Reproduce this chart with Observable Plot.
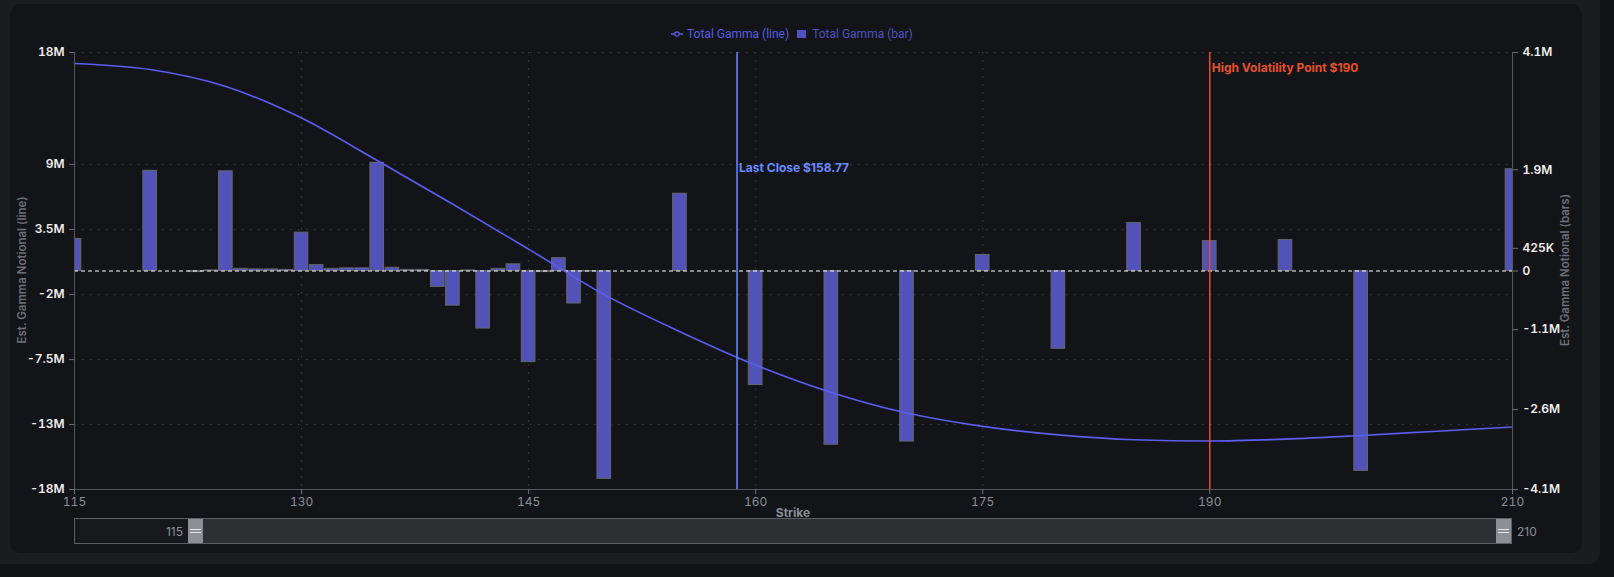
<!DOCTYPE html>
<html><head><meta charset="utf-8">
<script src="https://cdn.jsdelivr.net/npm/d3@7"></script>
<script src="https://cdn.jsdelivr.net/npm/@observablehq/plot@0.6"></script>
<style>
html,body{margin:0;padding:0;background:#121316;width:1614px;height:577px;overflow:hidden;font-family:Inter,"Noto Sans",sans-serif;}
#outer{position:absolute;left:0;top:0;width:1600px;height:564px;background:#1b1c20;border-radius:0 0 12px 0;}
#card{position:absolute;left:10px;top:4px;width:1572px;height:549px;background:#131417;border-radius:10px;}
#chart{position:absolute;left:0;top:0;}
.legend{position:absolute;top:25px;left:671px;height:18px;display:flex;align-items:center;font-family:Roboto,sans-serif;font-size:12px;white-space:nowrap;}
.legend .item{display:flex;align-items:center;margin-right:8px;}
.ytitle{position:absolute;font-size:11.5px;font-weight:600;color:#6c7079;white-space:nowrap;transform:translate(-50%,-50%) rotate(-90deg);}
.xtitle{position:absolute;left:793px;top:512px;transform:translate(-50%,-50%);font-size:12px;font-weight:700;color:#8a8f98;}
#slider{position:absolute;left:74px;top:518px;width:1438px;height:26px;box-sizing:border-box;border:1px solid #5c5e64;background:#2e2f33;}
#slider .left{position:absolute;left:0;top:0;width:113px;height:24px;background:#17181c;}
#slider .handle{position:absolute;top:0;width:15px;height:24px;background:#8d8f94;}
#slider .handle::before,#slider .handle::after{content:"";position:absolute;left:2px;right:2px;height:1px;background:#e6e6e6;}
#slider .handle::before{top:10px;}
#slider .handle::after{top:13px;}
.slabel{position:absolute;font-size:12px;color:#8a8f98;top:531px;transform:translateY(-50%);}
</style></head>
<body>
<div id="outer"></div>
<div id="card"></div>
<div id="chart"></div>
<div class="legend">
  <div class="item"><svg width="12" height="10" style="margin-right:4px"><line x1="0" y1="5" x2="12" y2="5" stroke="#5b5ef0" stroke-width="1.5"/><circle cx="6" cy="5" r="2.2" fill="#131417" stroke="#5b5ef0" stroke-width="1.2"/></svg><span style="color:#5a5de6">Total Gamma (line)</span></div>
  <div class="item"><svg width="10" height="10" style="margin-right:5px"><rect x="0" y="1" width="9" height="8" fill="#4f52c0"/></svg><span style="color:#4f52c0">Total Gamma (bar)</span></div>
</div>
<div class="ytitle" style="left:22px;top:270px;">Est. Gamma Notional (line)</div>
<div class="ytitle" style="left:1565px;top:270px;">Est. Gamma Notional (bars)</div>
<div class="xtitle">Strike</div>
<div id="slider">
  <div class="left"></div>
  <div class="handle" style="left:113px;"></div>
  <div class="handle" style="right:0;"></div>
</div>
<div class="slabel" style="left:74px;width:109px;text-align:right;">115</div>
<div class="slabel" style="left:1517px;">210</div>
<script>
// ---- data ----
const barStrikes = [115,120,123,124,125,126,127,128,129,130,131,132,133,134,135,136,137,138,139,140,141,142,143,144,145,146,147,148,149,150,155,160,165,170,175,180,185,190,195,200,210];
const barValues  = [0.60,1.88,-0.02,0.01,1.87,0.04,0.03,0.03,0.02,0.72,0.11,0.04,0.05,0.05,2.03,0.06,0.02,0.02,-0.30,-0.65,0.01,-1.08,0.04,0.125,-1.71,-0.02,0.24,-0.61,-0.01,-3.90,1.45,-2.14,-3.26,-3.20,0.30,-1.46,0.90,0.56,0.58,-3.75,1.91];
const lineStrikes = [115,120,125,130,135,140,145,150,155,160,165,170,175,180,185,190,195,200,205,210];
const lineValues  = [17.1,16.6,15.2,12.6,9.1,5.5,1.8,-1.95,-5.0,-7.75,-10.0,-11.7,-12.8,-13.5,-13.9,-14.0,-13.85,-13.55,-13.2,-12.85];
const leftTickValues = [18,8.78,3.42,-1.94,-7.3,-12.65,-18];
const leftTickLabels = ["18M","9M","3.5M","-2M","-7.5M","-13M","-18M"];
const rightTickValues = [4.1,1.9,0.425,0,-1.1,-2.6,-4.1];
const rightTickLabels = ["4.1M","1.9M","425K","0","-1.1M","-2.6M","-4.1M"];
const xTickValues = [115,130,145,160,175,190,210];
const xGrid = [130,145,160,175,190];
const leftMax = 18, rightMax = 4.1;
const lastClose = 158.77, highVol = 190;

const k = leftMax / rightMax;
const bars = barStrikes.map((s,i)=>({strike:s, value:barValues[i]*k}));
const line = lineStrikes.map((s,i)=>({strike:s, value:lineValues[i]}));
const rightScaled = rightTickValues.map(v=>v*k);

const grid = {stroke:"#3c3e45", strokeDasharray:"1.5,6.5", strokeWidth:1};
const chart = Plot.plot({
  width:1614, height:577,
  marginLeft:74, marginRight:102, marginTop:52, marginBottom:88,
  style:{background:"transparent", fontFamily:"Inter, sans-serif", overflow:"visible"},
  x:{domain:[115,210]},
  y:{domain:[-leftMax,leftMax]},
  marks:[
    Plot.ruleY(leftTickValues.filter(v=>v!==-18), grid),
    Plot.ruleX(xGrid, grid),
    Plot.rectY(bars, {x1:d=>d.strike-0.45, x2:d=>d.strike+0.45, y1:0, y2:"value", fill:"#5153b8", stroke:"#66676d", strokeWidth:1, clip:true}),
    Plot.ruleY([0], {stroke:"#ffffff", strokeDasharray:"4,3", strokeWidth:1}),
    Plot.line(line, {x:"strike", y:"value", curve:"monotone-x", stroke:"#5b5ef0", strokeWidth:1.6}),
    Plot.ruleX([lastClose], {stroke:"#6b8cff", strokeWidth:1.5}),
    Plot.ruleX([highVol], {stroke:"#e4502e", strokeWidth:1.5}),
    Plot.text([lastClose], {x:d=>d, frameAnchor:"top", lineAnchor:"middle", dy:116, dx:2, textAnchor:"start", text:d=>"Last Close $"+d, fill:"#6b8cff", fontSize:12, fontWeight:700}),
    Plot.text([highVol], {x:d=>d, frameAnchor:"top", lineAnchor:"middle", dy:16, dx:2, textAnchor:"start", text:d=>"High Volatility Point $"+d, fill:"#e4502e", fontSize:12, fontWeight:700}),
    Plot.ruleX([115], {stroke:"#55575d"}),
    Plot.ruleX([210], {stroke:"#55575d"}),
    Plot.ruleY([-leftMax], {stroke:"#55575d"}),
    Plot.axisY(leftTickValues, {anchor:"left", tickFormat:d=>leftTickLabels[leftTickValues.indexOf(d)], tickSize:5, tickPadding:5, fill:"#eeeeee", stroke:"#6b6e75", fontSize:12, fontWeight:600, label:null}),
    Plot.axisY(rightScaled, {anchor:"right", tickFormat:d=>rightTickLabels[rightScaled.indexOf(d)], tickSize:5, tickPadding:5, fill:"#eeeeee", stroke:"#6b6e75", fontSize:12, fontWeight:600, label:null}),
    Plot.axisX(xTickValues, {anchor:"bottom", tickSize:5, tickPadding:3, fill:"#8a8f98", stroke:"#6b6e75", fontSize:12, label:null})
  ]
});
document.getElementById("chart").appendChild(chart);
</script>
</body></html>
